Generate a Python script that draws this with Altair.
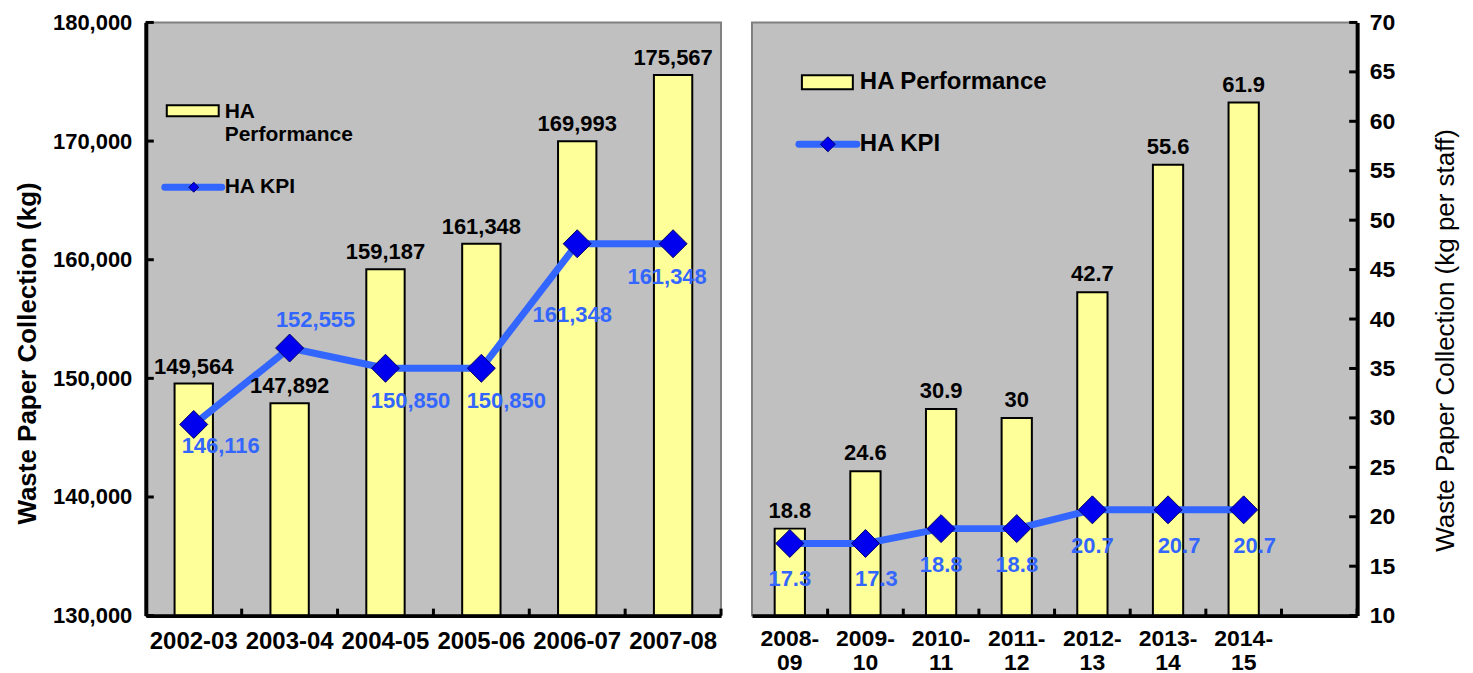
import altair as alt
import pandas as pd

# ---------------- data ----------------
years_a = ["2002-03", "2003-04", "2004-05", "2005-06", "2006-07", "2007-08"]
perf_a = [149564, 147892, 159187, 161348, 169993, 175567]
kpi_a = [146116, 152555, 150850, 150850, 161348, 161348]
ticks_a = [130000, 140000, 150000, 160000, 170000, 180000]

years_b = ["2008-09", "2009-10", "2010-11", "2011-12", "2012-13", "2013-14", "2014-15"]
perf_b = [18.8, 24.6, 30.9, 30, 42.7, 55.6, 61.9]
kpi_b = [17.3, 17.3, 18.8, 18.8, 20.7, 20.7, 20.7]
ticks_b = [10, 15, 20, 25, 30, 35, 40, 45, 50, 55, 60, 65, 70]
pad_b = [""]  # empty slot after the last year

series_names = ["HA Performance", "HA KPI"]

# ---------------- style ----------------
FONT = "Liberation Sans"
BAR_FILL = "#FFFF99"
LINE = "#3366FF"
DIAMOND = "#0000EE"
DIAMOND_STROKE = "#000066"
BG = "#C0C0C0"
W_A, W_B, H = 576, 606, 594

df_a = pd.DataFrame({"year": years_a, "perf": perf_a, "kpi": kpi_a})
df_b = pd.DataFrame({"year": years_b, "perf": perf_b, "kpi": kpi_b})
one = alt.Data(values=[{"k": 1}])


def xenc(domain, two_line, band_pos=None):
    common = dict(
        title=None, labelAngle=0, labelFontWeight="bold", labelColor="black",
        ticks=False, grid=False, domainColor="black", domainWidth=4, zindex=1,
    )
    if two_line:
        axis = alt.Axis(labelFontSize=23, labelPadding=12, labelLineHeight=24,
                        labelExpr="[slice(datum.label, 0, 5), slice(datum.label, 5)]", **common)
    else:
        axis = alt.Axis(labelFontSize=24, labelPadding=14, **common)
    kw = {}
    if band_pos is not None:
        kw["bandPosition"] = band_pos
    return alt.X("year:N", scale=alt.Scale(domain=domain, paddingInner=0, paddingOuter=0),
                 axis=axis, **kw)


def yenc_a(field):
    return alt.Y(field, scale=alt.Scale(domain=[130000, 180000], zero=False, nice=False),
                 axis=alt.Axis(values=ticks_a, labelExpr="format(datum.value, ',')",
                               title="Waste Paper Collection (kg)",
                               titleFontSize=26, titleFontWeight="bold", titleColor="black",
                               titlePadding=12, titleY=331, labelFontSize=22,
                               labelFontWeight="bold", labelColor="black", labelPadding=14,
                               ticks=False, grid=False, domainColor="black", domainWidth=4,
                               zindex=1))


def yenc_b(field):
    return alt.Y(field, scale=alt.Scale(domain=[10, 70], zero=False, nice=False),
                 axis=alt.Axis(values=ticks_b, orient="right",
                               title="Waste Paper Collection (kg per staff)",
                               titleFontSize=26, titleFontWeight="normal", titleColor="black",
                               titleAngle=270, titleBaseline="top", titlePadding=38,
                               titleY=318, labelFontSize=23,
                               labelFontWeight="bold", labelColor="black", labelPadding=12,
                               ticks=False, grid=False, domainColor="black", domainWidth=4,
                               zindex=1))


def panel(df, domain, yenc, base, yticks, width, two_line, bar_fmt,
          bar_dy, kpi_groups, legend):
    bars = alt.Chart(df).mark_bar(width={"band": 0.4}, fill=BAR_FILL, stroke="black",
                                  strokeWidth=2).encode(
        x=xenc(domain, two_line), y=yenc("perf:Q"), y2=alt.datum(base))
    line = alt.Chart(df).mark_line(color=LINE, strokeWidth=7).encode(
        x=xenc(domain, two_line), y=yenc("kpi:Q"))
    pts = alt.Chart(df).mark_point(shape="diamond", filled=True, size=784, fill=DIAMOND,
                                   stroke=DIAMOND_STROKE, strokeWidth=1, opacity=1).encode(
        x=xenc(domain, two_line), y=yenc("kpi:Q"))
    bar_lbl = alt.Chart(df).mark_text(dy=bar_dy, baseline="alphabetic", fontSize=22,
                                      fontWeight="bold", color="black").encode(
        x=xenc(domain, two_line), y=yenc("perf:Q"), text=alt.Text("perf:Q", format=bar_fmt))
    kpi_lbls = []
    for members, dx, dy in kpi_groups:
        kpi_lbls.append(
            alt.Chart(df).transform_filter(alt.FieldOneOfPredicate(field="year", oneOf=members))
            .mark_text(dx=dx, dy=dy, baseline="middle", fontSize=22, fontWeight="bold",
                       color=LINE)
            .encode(x=xenc(domain, two_line), y=yenc("kpi:Q"),
                    text=alt.Text("kpi:Q", format=bar_fmt)))
    ytick = alt.Chart(pd.DataFrame({"t": yticks})).mark_rule(color="black", strokeWidth=3)
    if two_line:
        ytick = ytick.encode(y=yenc("t:Q"), x=alt.value(width), x2=alt.value(width - 8))
    else:
        ytick = ytick.encode(y=yenc("t:Q"), x=alt.value(0), x2=alt.value(8))
    xtick = alt.Chart(pd.DataFrame({"year": domain})).mark_rule(
        color="black", strokeWidth=3).encode(
        x=xenc(domain, two_line, band_pos=1), y=alt.value(H), y2=alt.value(H - 7))

    # legend
    leg = []
    (rx1, rx2, ry1, ry2), texts_perf, (lx1, lx2, ly), (dxp, dsize), kpi_txt, fs = legend
    leg.append(alt.Chart(one).mark_rect(fill=BAR_FILL, stroke="black", strokeWidth=2).encode(
        x=alt.value(rx1), x2=alt.value(rx2), y=alt.value(ry1), y2=alt.value(ry2)))
    for txt, tx, ty in texts_perf:
        leg.append(alt.Chart(one).mark_text(text=txt, align="left", baseline="middle",
                                            fontSize=fs, fontWeight="bold", color="black")
                   .encode(x=alt.value(tx), y=alt.value(ty)))
    leg.append(alt.Chart(one).mark_rule(color=LINE, strokeWidth=7, strokeCap="round").encode(
        x=alt.value(lx1), x2=alt.value(lx2), y=alt.value(ly)))
    leg.append(alt.Chart(one).mark_point(shape="diamond", filled=True, size=dsize, fill=DIAMOND,
                                         stroke=DIAMOND_STROKE, strokeWidth=1, opacity=1)
               .encode(x=alt.value(dxp), y=alt.value(ly)))
    ktxt, kx = kpi_txt
    leg.append(alt.Chart(one).mark_text(text=ktxt, align="left", baseline="middle",
                                        fontSize=fs, fontWeight="bold", color="black")
               .encode(x=alt.value(kx), y=alt.value(ly)))

    return alt.layer(bars, line, pts, bar_lbl, *kpi_lbls, ytick, xtick, *leg).properties(
        width=width, height=H)


left = panel(
    df_a, years_a, yenc_a, 130000, ticks_a, W_A, False, ",", -10,
    [(["2002-03"], 27, 22), (["2003-04"], 26, -28), (["2004-05", "2005-06"], 25, 33),
     (["2006-07"], -5, 71), (["2007-08"], -6, 33)],
    ((21, 73, 83, 94), [("HA", 79, 90), ("Performance", 79, 113)], (19, 76, 165), (48, 100),
     (series_names[1], 79), 21),
)

right = panel(
    df_b, years_b + pad_b, yenc_b, 10, ticks_b, W_B, True, "~g", -11,
    [(["2008-09", "2010-11", "2011-12", "2012-13"], 0, 36),
     (["2009-10", "2013-14", "2014-15"], 11, 36)],
    ((50, 101, 53, 67), [(series_names[0], 108, 60)], (47, 105, 122), (76, 225),
     (series_names[1], 108), 24),
)

chart = (
    alt.hconcat(left, right, spacing=27)
    .properties(padding={"left": 5, "top": 2, "right": 5, "bottom": 0})
    .configure(font=FONT)
    .configure_view(fill=BG, stroke="#808080", strokeWidth=2)
)

chart.save("out.html", embed_options={"renderer": "svg", "actions": False})
